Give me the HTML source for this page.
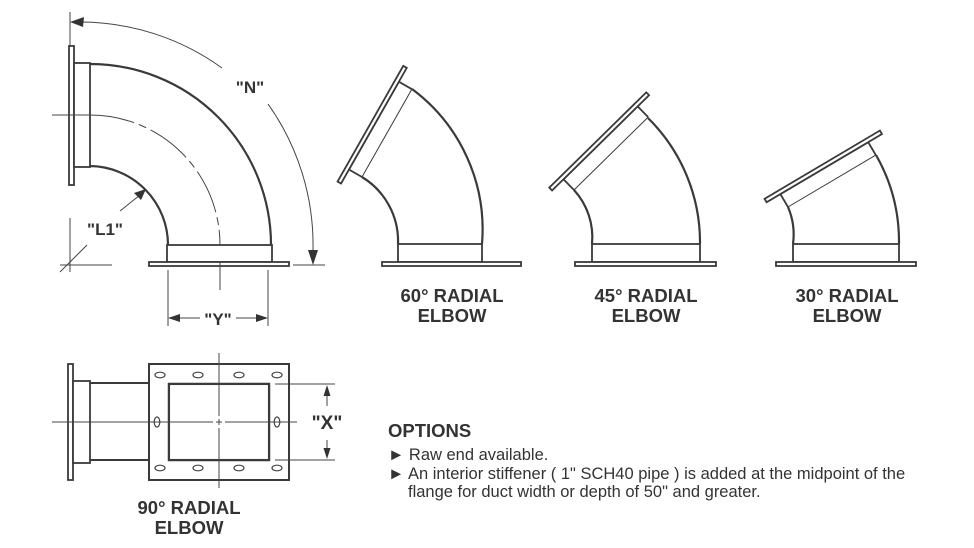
<!DOCTYPE html>
<html><head><meta charset="utf-8"><style>
html,body{margin:0;padding:0;background:#fff;}
svg{display:block;}
text{font-family:"Liberation Sans",Arial,sans-serif;fill:#333;}
.b{font-weight:bold;}
</style></head><body>
<svg width="974" height="548" viewBox="0 0 974 548" xmlns="http://www.w3.org/2000/svg">
<g fill="none" stroke="#3a3a3a" stroke-width="2.2" stroke-linejoin="miter">
<rect x="69" y="46" width="5" height="139" fill="#fff" stroke-width="1.8"/>
<rect x="74" y="63" width="16" height="104" fill="#fff" stroke-width="1.8"/>
<path d="M90,64 A181,181 0 0 1 271,245"/>
<path d="M90,166 A79,79 0 0 1 168,245"/>
<rect x="167" y="245" width="105" height="17" fill="#fff" stroke-width="1.8"/>
<rect x="149" y="262" width="140" height="4" fill="#fff" stroke-width="1.8"/>
</g>
<g fill="none" stroke="#444" stroke-width="1">
<line x1="52" y1="115" x2="90" y2="115"/>
<path d="M90,115 A130,130 0 0 1 220,245" stroke-dasharray="45,5,8,5"/>
<line x1="220" y1="262" x2="220" y2="290"/>
<line x1="70" y1="12" x2="70" y2="46"/>
<path d="M80,22 A243,243 0 0 1 222,68"/>
<path d="M268,104 A243,243 0 0 1 313,250"/>
<line x1="293" y1="265" x2="325" y2="265"/>
<line x1="70" y1="218" x2="70" y2="272"/>
<line x1="60" y1="265" x2="112" y2="265"/>
<line x1="60" y1="272" x2="87" y2="245"/>
<line x1="120" y1="211" x2="140" y2="195"/>
<line x1="168" y1="270" x2="168" y2="326"/>
<line x1="268" y1="270" x2="268" y2="326"/>
<line x1="172" y1="318" x2="200" y2="318"/>
<line x1="236" y1="318" x2="264" y2="318"/>
</g>
<g fill="#333" stroke="none">
<polygon points="70,22 84,17 83,27"/>
<polygon points="313,265 308,250 318,250"/>
<polygon points="146,189 134,193 141,200"/>
<polygon points="168,318 180,314 180,322"/>
<polygon points="268,318 256,314 256,322"/>
</g>
<text x="250" y="93" class="b" font-size="17" text-anchor="middle">"N"</text>
<text x="105" y="235" class="b" font-size="17" text-anchor="middle">"L1"</text>
<text x="218" y="325" class="b" font-size="17" text-anchor="middle">"Y"</text>

<g fill="none" stroke="#3a3a3a" stroke-width="2.2">
<path d="M398,244 A75,75 0 0 0 362,177"/>
<path d="M482,244 A175,175 0 0 0 412,89"/>
<rect x="398" y="244" width="84" height="18" fill="#fff" stroke-width="1.8"/>
<rect x="382" y="262" width="139" height="4" fill="#fff" stroke-width="1.8"/>
<g transform="translate(362,177) rotate(-60.4) scale(1,-1)" stroke-width="1.8">
 <path d="M0,0 L0,15 L101,15 L101,0" fill="#fff"/>
 <line x1="0" y1="0" x2="101" y2="0" stroke-width="1"/>
 <rect x="-16" y="15" width="133" height="4" fill="#fff"/>
</g>
</g>
<g fill="none" stroke="#3a3a3a" stroke-width="2.2">
<path d="M592,244 A70,70 0 0 0 574,190"/>
<path d="M700,244 A175,175 0 0 0 648,118"/>
<rect x="592" y="244" width="108" height="18" fill="#fff" stroke-width="1.8"/>
<rect x="575" y="262" width="141" height="4" fill="#fff" stroke-width="1.8"/>
<g transform="translate(574,190) rotate(-44.5) scale(1,-1)" stroke-width="1.8">
 <path d="M0,0 L0,15 L104,15 L104,0" fill="#fff"/>
 <line x1="0" y1="0" x2="104" y2="0" stroke-width="1"/>
 <rect x="-16" y="15" width="136" height="4" fill="#fff"/>
</g>
</g>
<g fill="none" stroke="#3a3a3a" stroke-width="2.2">
<path d="M793,244 A70,70 0 0 0 788,207"/>
<path d="M899,244 A175,175 0 0 0 876,155"/>
<rect x="793" y="244" width="106" height="18" fill="#fff" stroke-width="1.8"/>
<rect x="776" y="262" width="140" height="4" fill="#fff" stroke-width="1.8"/>
<g transform="translate(788,207) rotate(-30.6) scale(1,-1)" stroke-width="1.8">
 <path d="M0,0 L0,15 L102,15 L102,0" fill="#fff"/>
 <line x1="0" y1="0" x2="102" y2="0" stroke-width="1"/>
 <rect x="-16" y="15" width="134" height="4" fill="#fff"/>
</g>
</g>
<g font-size="18.5" text-anchor="middle">
<text x="452" y="302" class="b">60° RADIAL</text><text x="452" y="322" class="b">ELBOW</text>
<text x="646" y="302" class="b">45° RADIAL</text><text x="646" y="322" class="b">ELBOW</text>
<text x="847" y="302" class="b">30° RADIAL</text><text x="847" y="322" class="b">ELBOW</text>
<text x="189" y="514" class="b">90° RADIAL</text><text x="189" y="534" class="b">ELBOW</text>
</g>

<g fill="none" stroke="#3a3a3a" stroke-width="2">
<rect x="68" y="364" width="5" height="116" fill="#fff" stroke-width="1.8"/>
<rect x="73" y="381" width="17" height="82" fill="#fff" stroke-width="1.8"/>
<line x1="90" y1="383" x2="149" y2="383"/>
<line x1="90" y1="460" x2="149" y2="460"/>
<rect x="149" y="364" width="140" height="116" fill="#fff"/>
<rect x="169" y="384" width="100" height="76" stroke-width="2.5"/>
<rect x="170.5" y="385.5" width="97" height="73" stroke="#fff" stroke-width="0.8"/>
</g>
<g fill="none" stroke="#444" stroke-width="1.2">
<ellipse cx="160" cy="375" rx="5" ry="2.8"/><ellipse cx="198" cy="375" rx="5" ry="2.8"/>
<ellipse cx="239" cy="375" rx="5" ry="2.8"/><ellipse cx="277" cy="375" rx="5" ry="2.8"/>
<ellipse cx="160" cy="468" rx="5" ry="2.8"/><ellipse cx="198" cy="468" rx="5" ry="2.8"/>
<ellipse cx="239" cy="468" rx="5" ry="2.8"/><ellipse cx="277" cy="468" rx="5" ry="2.8"/>
<ellipse cx="157" cy="422" rx="2.8" ry="5"/><ellipse cx="277" cy="422" rx="2.8" ry="5"/>
</g>
<g stroke="#444" stroke-width="1">
<line x1="52" y1="422" x2="213" y2="422"/><line x1="216" y1="422" x2="222" y2="422"/><line x1="225" y1="422" x2="297" y2="422"/>
<line x1="219" y1="353" x2="219" y2="416"/><line x1="219" y1="419" x2="219" y2="425"/><line x1="219" y1="428" x2="219" y2="488"/>
<line x1="275" y1="384" x2="335" y2="384"/>
<line x1="275" y1="460" x2="335" y2="460"/>
<line x1="327" y1="394" x2="327" y2="406"/>
<line x1="327" y1="440" x2="327" y2="450"/>
</g>
<g fill="#333">
<polygon points="327,385 323.5,396 330.5,396"/>
<polygon points="327,459 323.5,448 330.5,448"/>
</g>
<text x="327" y="429" class="b" font-size="19" text-anchor="middle">"X"</text>

<text x="388" y="437" class="b" font-size="18.5">OPTIONS</text>
<text x="388" y="460" font-size="16.5">► Raw end available.</text>
<text x="388" y="479" font-size="16.5">► An interior stiffener ( 1" SCH40 pipe ) is added at the midpoint of the</text>
<text x="408" y="497" font-size="16.5">flange for duct width or depth of 50" and greater.</text>
</svg>
</body></html>
